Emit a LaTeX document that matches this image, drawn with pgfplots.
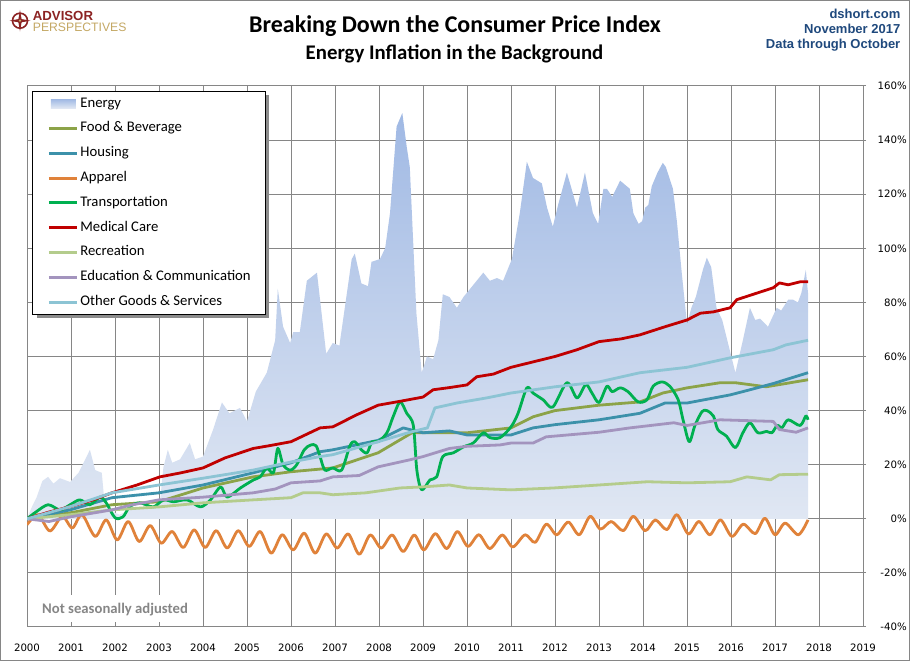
\documentclass[border=0pt]{standalone}
\usepackage{fontspec}
\setmainfont{Carlito}
\newfontfamily\tickfont{DejaVu Sans}
\newfontfamily\arialfont{Liberation Sans}
\usepackage{pgfplots}
\pgfplotsset{compat=1.18}
\definecolor{gridgray}{RGB}{134,134,134}
\definecolor{enTop}{RGB}{160,185,228}
\definecolor{enBot}{RGB}{224,231,243}
\definecolor{cFood}{RGB}{140,163,72}
\definecolor{cHouse}{RGB}{60,145,170}
\definecolor{cApp}{RGB}{224,130,58}
\definecolor{cTrans}{RGB}{0,176,80}
\definecolor{cMed}{RGB}{192,0,0}
\definecolor{cRec}{RGB}{180,204,140}
\definecolor{cEdu}{RGB}{163,148,190}
\definecolor{cOth}{RGB}{140,196,212}
\definecolor{dblue}{RGB}{31,73,125}
\definecolor{apred}{RGB}{140,35,35}
\definecolor{apgold}{RGB}{196,168,100}
\begin{document}
\begin{tikzpicture}[x=1pt,y=1pt]
\useasboundingbox (0,0) rectangle (910,661);
\fill[white] (0,0) rectangle (910,661);
\draw[gridgray, line width=1pt] (0.5,0.5) rectangle (909.5,660.5);
\begin{axis}[
  at={(27pt,34pt)}, anchor=south west,
  scale only axis, width=836pt, height=541pt,
  xmin=2000, xmax=2019, ymin=-40, ymax=160,
  xtick={2000,2001,2002,2003,2004,2005,2006,2007,2008,2009,2010,2011,2012,2013,2014,2015,2016,2017,2018,2019},
  xticklabels={2000,2001,2002,2003,2004,2005,2006,2007,2008,2009,2010,2011,2012,2013,2014,2015,2016,2017,2018,2019},
  ytick={-40,-20,0,20,40,60,80,100,120,140,160},
  yticklabels={-40\%,-20\%,0\%,20\%,40\%,60\%,80\%,100\%,120\%,140\%,160\%},
  grid=major, major grid style={gridgray, line width=1pt},
  axis line style={gridgray, line width=1pt},
  yticklabel pos=right, ytick pos=right,
  xtick style={draw=none},
  ytick style={gridgray, line width=1pt},
  major tick length=3pt, tick align=outside,
  yticklabel style={anchor=east, xshift=41pt, inner sep=0pt, font=\tickfont\fontsize{10.2}{12}\selectfont},
  xticklabel style={anchor=center, yshift=-18pt, inner sep=0pt, font=\tickfont\fontsize{10.2}{12}\selectfont},
  legend cell align=left,
  legend style={at={(0.006,0.9908)}, anchor=north west, draw=black, line width=0.8pt, fill=white,
    font=\fontsize{14.7}{16}\selectfont, inner xsep=15pt, inner ysep=5.3pt, row sep=10.8pt, column sep=2pt,
    nodes={inner sep=0pt, text height=10.5pt, text depth=3.5pt}},
  legend image code/.code={\draw[#1, line width=3pt] (0pt,0pt) -- (28pt,0pt);},
  every axis plot/.append style={line join=round},
]
% legend shadow
\fill[black!45] (rel axis cs:0.0120,0.9835) rectangle (rel axis cs:0.2895,0.5715);
% Energy
\addplot[draw=none, top color=enTop, bottom color=enBot,
  legend image code/.code={\fill[top color=enTop, bottom color=enBot] (2pt,-4.5pt) rectangle (27pt,4.5pt);}]
coordinates {
(2000.00,0) (2000.10,4) (2000.22,8) (2000.35,14) (2000.48,15.5) (2000.60,13) (2000.75,15) (2000.98,13.6)
(2001.17,17) (2001.32,21.8) (2001.43,25.5) (2001.55,18) (2001.70,17) (2001.77,4.4) (2001.90,3) (2002.10,1.5)
(2002.30,3) (2002.50,4) (2002.70,4) (2002.90,4) (2003.02,6) (2003.10,19) (2003.20,25.5) (2003.30,20.7)
(2003.48,22) (2003.70,28) (2003.82,22) (2004.00,23) (2004.23,33) (2004.43,43) (2004.60,39) (2004.84,41)
(2005.00,36) (2005.20,47) (2005.45,54) (2005.64,66) (2005.70,85) (2005.82,71) (2005.98,65) (2006.05,69)
(2006.20,69) (2006.36,88) (2006.59,91) (2006.80,61) (2006.95,65) (2007.10,64) (2007.38,96) (2007.45,98)
(2007.60,87) (2007.75,86) (2007.83,95) (2008.02,96) (2008.14,100) (2008.25,113) (2008.40,145) (2008.53,150)
(2008.63,137.5) (2008.70,130) (2008.85,76) (2008.97,54) (2009.09,60) (2009.23,59) (2009.35,66) (2009.45,83)
(2009.60,82) (2009.77,78) (2009.92,82) (2010.07,85) (2010.22,88) (2010.37,91) (2010.52,88) (2010.68,89)
(2010.82,88) (2011.02,96) (2011.20,113) (2011.36,132) (2011.50,126) (2011.70,124) (2011.82,115) (2011.95,108)
(2012.07,116) (2012.27,128) (2012.50,115) (2012.68,128) (2012.86,113) (2012.98,109) (2013.10,122) (2013.18,122)
(2013.30,119) (2013.48,125) (2013.70,122) (2013.78,113) (2013.90,109) (2013.98,110) (2014.05,115) (2014.12,116)
(2014.20,123) (2014.33,128) (2014.45,131.6) (2014.52,130) (2014.68,122) (2014.77,110) (2014.88,91) (2015.00,72)
(2015.10,78) (2015.20,82) (2015.36,92) (2015.45,96.5) (2015.55,93) (2015.67,78) (2015.80,73.5) (2015.93,65)
(2016.10,54) (2016.27,66) (2016.43,78) (2016.55,73.5) (2016.66,74) (2016.84,71) (2017.04,78) (2017.14,77)
(2017.30,81) (2017.41,81) (2017.52,80) (2017.60,83.5) (2017.70,92) (2017.75,83.5) (2017.75,0)
} \closedcycle;
\addlegendentry{Energy}
% Food & Beverage
\addplot[cFood, line width=2.8pt] coordinates {
(2000.00,0) (2000.98,2.2) (2001.93,5.2) (2003.00,6.3) (2004.00,11.4) (2005.14,15.5) (2006.00,17.4) (2006.95,18.8)
(2007.98,24.4) (2008.75,31.8) (2009.20,31.8) (2010.00,31.8) (2011.00,33.6) (2011.50,37.7) (2012.00,40) (2013.00,42)
(2013.93,43.2) (2014.45,46.5) (2015.00,48.4) (2015.75,50.3) (2016.10,50.3) (2016.80,48.8) (2017.75,51.4)
};
\addlegendentry{Food \& Beverage}
% Housing
\addplot[cHouse, line width=2.8pt] coordinates {
(2000.00,0) (2000.98,3.3) (2001.93,7.8) (2003.00,9.6) (2004.00,12.5) (2005.14,17) (2006.00,20.7) (2006.66,24.8)
(2006.95,25.5) (2007.98,29) (2008.55,33.6) (2009.00,31.8) (2009.60,32.5) (2010.00,31) (2011.00,31) (2011.50,33.6)
(2012.00,34.8) (2013.00,36.6) (2013.93,39) (2014.50,42.8) (2015.00,42.8) (2015.98,45.8) (2016.43,47.7) (2016.96,50)
(2017.75,54)
};
\addlegendentry{Housing}
% Apparel
\addplot[cApp, line width=2.8pt, smooth] coordinates {
(2000.00,-2.2) (2000.25,1.5) (2000.52,-4.5) (2000.80,0.9) (2001.03,-3.4) (2001.25,1.5) (2001.55,-6.5) (2001.80,-0.4)
(2002.05,-7.8) (2002.30,-1.0) (2002.55,-8.4) (2002.80,-2.5) (2003.05,-9.0) (2003.30,-4.7) (2003.55,-10.6) (2003.80,-4.1)
(2004.05,-10.6) (2004.30,-4.4) (2004.55,-10.8) (2004.80,-4.4) (2005.05,-10.2) (2005.30,-4.7) (2005.55,-12.7) (2005.80,-5.9)
(2006.05,-11.5) (2006.30,-5.3) (2006.55,-12.7) (2006.80,-5.6) (2007.05,-10.8) (2007.30,-5.6) (2007.55,-13.1) (2007.80,-6.0)
(2008.05,-10.8) (2008.30,-6.0) (2008.55,-12.1) (2008.80,-6.0) (2009.02,-11.5) (2009.28,-5.5) (2009.54,-11.0) (2009.78,-4.7)
(2010.02,-10.2) (2010.27,-5.9) (2010.52,-11.0) (2010.80,-6.0) (2011.04,-10.4) (2011.32,-5.9) (2011.55,-8.7) (2011.80,-2.0)
(2012.04,-5.9) (2012.30,-1.2) (2012.55,-5.9) (2012.80,0.9) (2013.03,-3.8) (2013.28,-1.0) (2013.55,-4.4) (2013.78,0.9)
(2014.05,-4.4) (2014.28,-0.4) (2014.54,-4.0) (2014.77,1.5) (2015.03,-5.6) (2015.27,-1.0) (2015.52,-5.9) (2015.76,-0.4)
(2016.02,-6.5) (2016.28,-2.0) (2016.55,-5.5) (2016.77,0.2) (2017.00,-5.9) (2017.23,-1.6) (2017.53,-5.9) (2017.75,-0.4)
};
\addlegendentry{Apparel}
% Transportation
\addplot[cTrans, line width=2.8pt, smooth] coordinates {
(2000.00,0) (2000.21,2.6) (2000.48,5.2) (2000.75,3.3) (2000.98,5.2) (2001.20,7) (2001.43,5.2) (2001.66,8)
(2001.80,5.9) (2002.00,0.4) (2002.18,0.7) (2002.33,4.4) (2002.56,5.9) (2002.87,4.4) (2003.10,7) (2003.33,6.3)
(2003.64,7) (2003.94,4.4) (2004.17,7) (2004.40,11.8) (2004.55,8) (2004.85,11.4) (2005.15,14.4) (2005.30,15.5)
(2005.45,18.8) (2005.60,17) (2005.70,26) (2005.82,20) (2005.98,18) (2006.13,20) (2006.30,25.5) (2006.45,27.3)
(2006.57,27) (2006.66,23) (2006.77,18) (2006.95,18.8) (2007.15,18) (2007.34,27) (2007.45,28.5) (2007.60,25.5)
(2007.73,24.4) (2007.84,28.5) (2007.98,28.5) (2008.18,31.8) (2008.32,37.7) (2008.48,43.2) (2008.63,39) (2008.78,34.5)
(2008.86,18) (2008.97,10.7) (2009.16,14.4) (2009.31,15.5) (2009.45,23) (2009.69,24.4) (2009.92,26.6) (2010.14,28)
(2010.37,31.8) (2010.52,30) (2010.75,30) (2011.00,34) (2011.16,39) (2011.36,48.4) (2011.50,46.5) (2011.73,44)
(2011.95,41.3) (2012.27,50.3) (2012.50,44.7) (2012.70,49.6) (2012.84,46.5) (2013.00,43) (2013.18,49) (2013.30,47)
(2013.48,48.4) (2013.66,47) (2013.89,43.2) (2014.09,44) (2014.23,49) (2014.43,50.6) (2014.61,49) (2014.80,44)
(2014.91,36.6) (2015.05,28.5) (2015.18,34.5) (2015.34,39.6) (2015.45,40) (2015.60,38) (2015.70,33) (2015.90,30.5)
(2016.10,26.3) (2016.27,31.8) (2016.43,35.5) (2016.61,31.8) (2016.81,32.3) (2016.93,31.8) (2017.05,34.5) (2017.16,33.7)
(2017.30,36.6) (2017.57,34.5) (2017.70,38) (2017.75,36.6)
};
\addlegendentry{Transportation}
% Medical Care
\addplot[cMed, line width=2.8pt] coordinates {
(2000.00,0) (2000.50,2.5) (2000.98,4.5) (2001.50,7) (2001.93,9.6) (2002.50,12.5) (2003.02,15.5) (2003.50,17)
(2004.00,18.8) (2004.50,22.5) (2005.14,26) (2005.50,27) (2006.00,28.5) (2006.66,33.6) (2006.95,34) (2007.50,38.5)
(2007.98,42) (2008.50,43.5) (2009.00,45) (2009.23,47.7) (2009.60,48.5) (2010.00,49.5) (2010.22,52.5) (2010.60,53.5)
(2011.00,56) (2011.50,58) (2012.00,60) (2012.50,62.5) (2013.00,65.5) (2013.50,66.5) (2013.93,68) (2014.50,71)
(2015.00,73.5) (2015.30,76) (2015.60,76.5) (2015.98,78) (2016.13,81) (2016.60,83.5) (2016.96,85.4) (2017.10,87.2)
(2017.30,86.5) (2017.57,87.6) (2017.75,87.6)
};
\addlegendentry{Medical Care}
% Recreation
\addplot[cRec, line width=2.8pt] coordinates {
(2000.00,0) (2000.98,1.5) (2001.93,3.3) (2003.00,4.4) (2004.00,5.9) (2005.14,7) (2006.00,7.8) (2006.27,9.6)
(2006.66,9.6) (2006.95,8.9) (2007.70,9.6) (2008.48,11.4) (2009.00,11.8) (2009.60,12.5) (2010.00,11.4) (2011.00,10.7)
(2011.97,11.4) (2013.00,12.5) (2014.10,13.7) (2015.00,13.3) (2015.98,13.7) (2016.36,15.5) (2016.90,14.4) (2017.10,16.3)
(2017.75,16.5)
};
\addlegendentry{Recreation}
% Education & Communication
\addplot[cEdu, line width=2.8pt] coordinates {
(2000.00,0) (2000.50,-1) (2000.98,0.7) (2001.93,3.3) (2002.34,5) (2003.00,7) (2004.00,8) (2005.14,9.6)
(2005.64,11) (2006.00,13.3) (2006.66,14) (2006.95,15.5) (2007.55,16) (2007.98,19.2) (2008.70,21.8) (2009.00,23)
(2009.60,26) (2010.00,26.8) (2010.75,27.3) (2011.00,28) (2011.50,28) (2011.80,30.3) (2013.00,32) (2013.70,33.6)
(2014.70,35.5) (2015.00,34.5) (2015.75,36.6) (2016.96,36) (2017.10,33) (2017.48,32) (2017.75,33.6)
};
\addlegendentry{Education \& Communication}
% Other Goods & Services
\addplot[cOth, line width=2.8pt] coordinates {
(2000.00,0) (2000.98,4.5) (2001.93,9.6) (2003.00,12.5) (2004.00,15) (2005.14,18) (2006.00,21) (2006.66,23)
(2006.95,23.7) (2007.98,28.5) (2008.70,32) (2009.10,33.6) (2009.27,41) (2009.77,42.8) (2010.45,44.7) (2011.00,46.5)
(2012.00,48.8) (2013.00,50.6) (2013.93,54) (2015.00,56) (2015.98,59.5) (2016.96,62.5) (2017.25,64.3) (2017.75,66)
};
\addlegendentry{Other Goods \& Services}
\end{axis}
% titles
\node[anchor=base, inner sep=0pt, font=\fontsize{24}{28}\selectfont\bfseries] at (455,628.7) {Breaking Down the Consumer Price Index};
\node[anchor=base, inner sep=0pt, font=\fontsize{20.8}{24}\selectfont\bfseries] at (454.5,601) {Energy Inflation in the Background};
% top right
\node[anchor=base east, inner sep=0pt, text=dblue, font=\arialfont\fontsize{13}{15}\selectfont\bfseries] at (900.5,642.7) {dshort.com};
\node[anchor=base east, inner sep=0pt, text=dblue, font=\arialfont\fontsize{13}{15}\selectfont\bfseries] at (900.5,627.7) {November 2017};
\node[anchor=base east, inner sep=0pt, text=dblue, font=\arialfont\fontsize{13}{15}\selectfont\bfseries] at (900.5,612.7) {Data through October};
% logo
\draw[apred, line width=1.6pt] (20,640.3) circle (7.5);
\fill[apred] (20,651) -- (21.6,641.9) -- (30.5,640.3) -- (21.6,638.7) -- (20,629.6) -- (18.4,638.7) -- (9.5,640.3) -- (18.4,641.9) -- cycle;
\fill[apgold] (20,640.3) circle (1.3);
\node[anchor=base west, inner sep=0pt, text=apred, font=\arialfont\fontsize{13.2}{15}\selectfont\bfseries] at (32.7,640.8) {ADVISOR};
\node[anchor=base west, inner sep=0pt, text=apgold, font=\arialfont\fontsize{12.2}{14}\selectfont] at (32.7,629.8) {PERSPECTIVES};
% note
\fill[white] (38,39) rectangle (192,66);
\node[anchor=base west, inner sep=0pt, text=gridgray, font=\fontsize{14.7}{16}\selectfont\bfseries] at (42,47) {Not seasonally adjusted};
\end{tikzpicture}
\end{document}
